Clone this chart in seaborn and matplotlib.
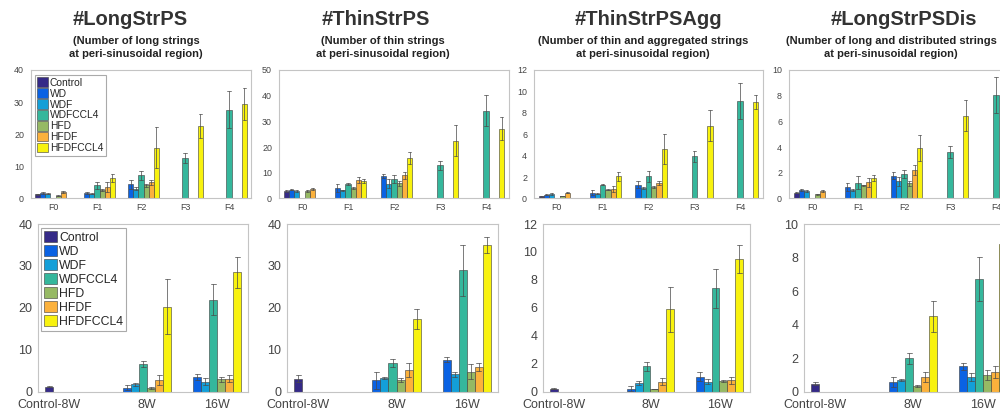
import numpy as np
import pandas as pd
import matplotlib.pyplot as plt
from matplotlib.patches import Rectangle
import seaborn as sns

nan = np.nan

groups = ['Control', 'WD', 'WDF', 'WDFCCL4', 'HFD', 'HFDF', 'HFDFCCL4']
colors = ['#352a87', '#0a62e3', '#139fd8', '#35b79c', '#96b964', '#fbb13c', '#f8f20e']
stages = ['F0', 'F1', 'F2', 'F3', 'F4']
weeks = ['Control-8W', '8W', '16W']

titles = ['#LongStrPS', '#ThinStrPS', '#ThinStrPSAgg', '#LongStrPSDis']
sub_line1 = ['(Number of long strings', '(Number of thin strings',
             '(Number of thin and aggregated strings', '(Number of long and distributed strings']
sub_line2 = ['at peri-sinusoidal region)'] * 4

# rows = groups, columns = stages (F0..F4)
long_f_mean = [[1.35, nan, nan, nan, nan], [1.75, 1.75, 4.4, nan, nan], [1.55, 1.55, 3.0, nan, nan],
               [nan, 4.05, 7.2, 12.7, 27.7], [0.9, 2.6, 4.05, nan, nan], [2.0, 3.5, 5.1, nan, nan],
               [nan, 6.4, 15.8, 22.5, 29.5]]
long_f_err = [[0.2, nan, nan, nan, nan], [0.2, 0.3, 1.5, nan, nan], [0.15, 0.2, 0.5, nan, nan],
              [nan, 1.0, 1.3, 1.5, 5.7], [0.1, 0.3, 0.5, nan, nan], [0.2, 1.6, 0.8, nan, nan],
              [nan, 1.3, 6.4, 3.7, 5.0]]

thin_f_mean = [[3.0, nan, nan, nan, nan], [3.5, 4.0, 8.6, nan, nan], [3.0, 3.2, 5.8, nan, nan],
               [nan, 5.7, 7.7, 12.9, 34.1], [3.0, 4.0, 6.0, nan, nan], [3.6, 7.1, 9.0, nan, nan],
               [nan, 6.8, 15.7, 22.5, 27.1]]
thin_f_err = [[0.4, nan, nan, nan, nan], [0.3, 1.5, 0.8, nan, nan], [0.3, 0.3, 1.6, nan, nan],
              [nan, 0.5, 1.5, 1.7, 6.0], [0.3, 0.4, 1.0, nan, nan], [0.4, 1.2, 1.3, nan, nan],
              [nan, 0.8, 2.3, 6.0, 4.5]]

agg_f_mean = [[0.2, nan, nan, nan, nan], [0.37, 0.56, 1.3, nan, nan], [0.43, 0.45, 1.0, nan, nan],
              [nan, 1.3, 2.08, 3.95, 9.13], [0.22, 0.8, 1.08, nan, nan], [0.56, 0.87, 1.43, nan, nan],
              [nan, 2.08, 4.63, 6.8, 9.04]]
agg_f_err = [[0.03, nan, nan, nan, nan], [0.05, 0.2, 0.3, nan, nan], [0.08, 0.05, 0.1, nan, nan],
             [nan, 0.08, 0.5, 0.5, 1.7], [0.03, 0.05, 0.1, nan, nan], [0.08, 0.3, 0.2, nan, nan],
             [nan, 0.4, 1.4, 1.45, 0.65]]

dis_f_mean = [[0.46, nan, nan, nan, nan], [0.64, 0.92, 1.78, nan, nan], [0.58, 0.66, 1.35, nan, nan],
              [nan, 1.22, 1.93, 3.64, 8.04], [0.33, 1.02, 1.17, nan, nan], [0.58, 1.27, 2.24, nan, nan],
              [nan, 1.6, 3.94, 6.44, 8.6]]
dis_f_err = [[0.05, nan, nan, nan, nan], [0.08, 0.3, 0.25, nan, nan], [0.08, 0.05, 0.35, nan, nan],
             [nan, 0.5, 0.3, 0.45, 1.4], [0.03, 0.05, 0.2, nan, nan], [0.08, 0.35, 0.4, nan, nan],
             [nan, 0.2, 1.0, 1.2, 1.0]]

# rows = groups, columns = weeks (Control-8W, 8W, 16W)
long_w_mean = [[1.3, nan, nan], [nan, 1.0, 3.6], [nan, 1.8, 2.5], [nan, 6.7, 22.0],
               [nan, 1.0, 3.0], [nan, 2.9, 3.2], [nan, 20.3, 28.5]]
long_w_err = [[0.2, nan, nan], [nan, 0.6, 0.7], [nan, 0.3, 0.9], [nan, 0.8, 3.7],
              [nan, 0.2, 0.6], [nan, 1.2, 0.8], [nan, 6.5, 3.7]]

thin_w_mean = [[3.2, nan, nan], [nan, 2.8, 7.7], [nan, 3.3, 4.2], [nan, 6.9, 29.0],
               [nan, 2.9, 4.8], [nan, 5.2, 6.0], [nan, 17.3, 35.1]]
thin_w_err = [[0.8, nan, nan], [nan, 2.0, 0.6], [nan, 0.3, 0.6], [nan, 1.0, 6.1],
              [nan, 0.5, 1.8], [nan, 1.6, 0.9], [nan, 2.4, 1.9]]

agg_w_mean = [[0.24, nan, nan], [nan, 0.24, 1.1], [nan, 0.66, 0.75], [nan, 1.83, 7.42],
              [nan, 0.22, 0.8], [nan, 0.73, 0.85], [nan, 5.9, 9.5]]
agg_w_err = [[0.03, nan, nan], [nan, 0.2, 0.3], [nan, 0.15, 0.15], [nan, 0.3, 1.4],
             [nan, 0.03, 0.05], [nan, 0.25, 0.25], [nan, 1.6, 1.0]]

dis_w_mean = [[0.5, nan, nan], [nan, 0.6, 1.52], [nan, 0.7, 0.9], [nan, 2.0, 6.73],
              [nan, 0.37, 1.0], [nan, 0.9, 1.2], [nan, 4.5, 8.8]]
dis_w_err = [[0.1, nan, nan], [nan, 0.3, 0.2], [nan, 0.05, 0.25], [nan, 0.35, 1.3],
             [nan, 0.05, 0.3], [nan, 0.3, 0.35], [nan, 0.9, 0.5]]

top_data = [(long_f_mean, long_f_err), (thin_f_mean, thin_f_err),
            (agg_f_mean, agg_f_err), (dis_f_mean, dis_f_err)]
bot_data = [(long_w_mean, long_w_err), (thin_w_mean, thin_w_err),
            (agg_w_mean, agg_w_err), (dis_w_mean, dis_w_err)]
top_ylim = [(40, 10), (50, 10), (12, 2), (10, 2)]
bot_ylim = [(40, 10), (40, 10), (12, 2), (10, 2)]


def to_frame(mean, err, cats):
    # two rows per bar (mean-err, mean+err) so seaborn's min/max interval gives the error bar
    rows = []
    for g, mrow, erow in zip(groups, mean, err):
        for c, m, e in zip(cats, mrow, erow):
            if np.isnan(m):
                continue
            rows.append((c, g, m - e))
            rows.append((c, g, m + e))
    return pd.DataFrame(rows, columns=['cat', 'group', 'value'])


sns.set_style('white')
plt.rcParams['font.family'] = ['Liberation Sans', 'DejaVu Sans']

W, H = 1000, 412
fig = plt.figure(figsize=(W / 100, H / 100), dpi=100)


def px_axes(x0, x1, y0, y1):
    return fig.add_axes([x0 / W, (H - y1) / H, (x1 - x0) / W, (y1 - y0) / H])


top_x = [(31, 251), (279, 509), (534, 763), (789, 1019)]
bot_x = [(38, 248), (287, 498), (543, 750), (804, 1014)]
title_x = [130, 376, 648, 904]
sub_x = [136, 383, 643, 891]


def draw(ax, df, cats, ylim, legend, small):
    sns.barplot(data=df, x='cat', y='value', hue='group', order=cats, hue_order=groups,
                palette=colors, saturation=1, width=0.8,
                errorbar=lambda v: (v.min(), v.max()), capsize=0.5,
                err_kws={'color': '#4a4a4a', 'linewidth': 0.6, 'alpha': 0.85},
                edgecolor='#3a3a3a', linewidth=0.4, legend=legend, ax=ax)
    ax.set_xlabel('')
    ax.set_ylabel('')
    ax.set_ylim(0, ylim[0])
    ax.set_yticks(np.arange(0, ylim[0] + 0.01, ylim[1]))
    ax.tick_params(axis='both', labelsize=6.4 if small else 9, labelcolor='#444444',
                   color='#bbbbbb', direction='in', length=2)
    ax.tick_params(axis='y', pad=5 if small else 4)
    ax.tick_params(axis='x', pad=3 if small else 5)
    for s in ax.spines.values():
        s.set_color('#c4c4c4')
        s.set_linewidth(0.8)
    if legend:
        h, l = ax.get_legend_handles_labels()
        ax.legend(h, l, loc='upper left',
                  bbox_to_anchor=(0.016, 0.962) if small else (0.013, 0.978),
                  borderaxespad=0, fontsize=7.4 if small else 8.8, frameon=True,
                  fancybox=False, edgecolor='#aaaaaa', framealpha=1,
                  labelspacing=0.06 if small else 0.1,
                  handlelength=1.1, handleheight=1.05, handletextpad=0.15,
                  borderpad=0.25)
        ax.get_legend().get_frame().set_linewidth(0.8)
    elif ax.get_legend() is not None:
        ax.get_legend().remove()


for i in range(4):
    ax = px_axes(top_x[i][0], top_x[i][1], 70, 198.5)
    draw(ax, to_frame(*top_data[i], stages), stages, top_ylim[i], i == 0, True)

# the lower image covers the lower part of the upper tick labels
fig.add_artist(Rectangle((0, 0), 1, (H - 211) / H, transform=fig.transFigure,
                         facecolor='white', edgecolor='none', zorder=0.5))

bar_w = 0.8 / len(groups)
week_ticks = [0 - 3 * bar_w, 1 + bar_w / 2, 2 + bar_w / 2]
for i in range(4):
    ax = px_axes(bot_x[i][0], bot_x[i][1], 224, 392)
    ax.set_zorder(1)
    draw(ax, to_frame(*bot_data[i], weeks), weeks, bot_ylim[i], i == 0, False)
    ax.set_xticks(week_ticks)
    ax.set_xticklabels(weeks)

for i in range(4):
    fig.text(title_x[i] / W, 1 - 25 / H, titles[i], ha='center', va='baseline',
             fontsize=14.5, fontweight='bold', color='#333333')
    fig.text(sub_x[i] / W, 1 - 44.5 / H, sub_line1[i], ha='center', va='baseline',
             fontsize=8, fontweight='bold', color='#222222')
    fig.text(sub_x[i] / W, 1 - 57 / H, sub_line2[i], ha='center', va='baseline',
             fontsize=8, fontweight='bold', color='#222222')

fig.savefig('out.png', dpi=100)
